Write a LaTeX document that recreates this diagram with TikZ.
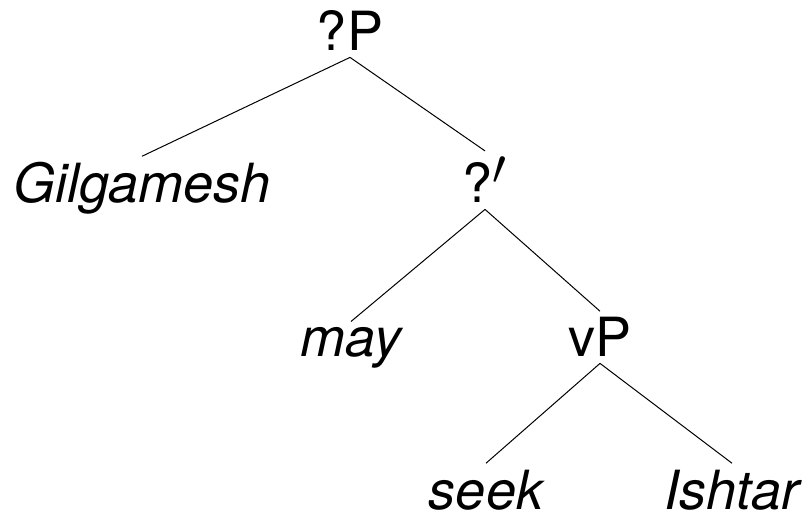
\documentclass[tikz,border=0pt]{standalone}
\usepackage{fontspec}
\setmainfont{TeX Gyre Heros}
\usepackage{tikz}
\tikzset{
  cat/.style={anchor=base, inner sep=3pt, font=\fontsize{27}{31}\selectfont},
  word/.style={cat, font=\fontsize{27}{31}\selectfont\itshape},
  branch/.style={line width=0.5pt, draw=black}
}
\newcommand{\barmark}{{\fontsize{36}{40}\selectfont$'$}}

\begin{document}
\begin{tikzpicture}[x=0.5pt,y=-0.5pt]
  \useasboundingbox (0,0) rectangle (807,512);

  \node[cat]  (root) at (350,51)  {?P};
  \node[word] (spec) at (142,203) {Gilgamesh};
  \node[cat]  (bar)  at (485,203) {?\barmark};
  \node[word] (aux)  at (351,357) {may};
  \node[cat]  (vp)   at (600,357) {vP};
  \node[word] (verb) at (486,509) {seek};
  \node[word] (obj)  at (732,509) {Ishtar};

  \draw[branch] (root.south) -- (spec.north);
  \draw[branch] (root.south) -- (bar.north);
  \draw[branch] (bar.south) -- (aux.north);
  \draw[branch] (bar.south) -- (vp.north);
  \draw[branch] (vp.south) -- (verb.north);
  \draw[branch] (vp.south) -- (obj.north);
\end{tikzpicture}
\end{document}
